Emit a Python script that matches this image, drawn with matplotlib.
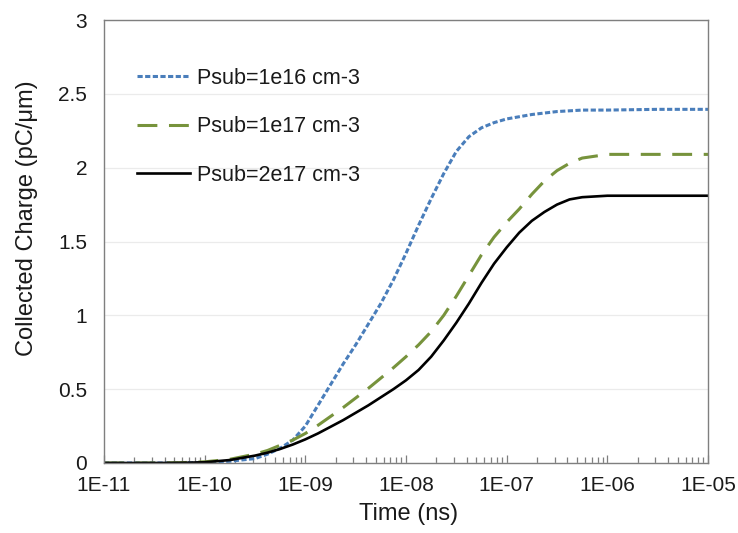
import numpy as np
import matplotlib
matplotlib.use("Agg")
import matplotlib.pyplot as plt
from matplotlib.ticker import LogLocator, NullFormatter

plt.rcParams['font.family'] = ['Liberation Sans', 'DejaVu Sans']

# decade offsets from 1E-11 ns (time = 1e-11 * 10**offset)
log_offset = [0.0, 0.5, 0.75, 1.0, 1.25, 1.5, 1.625, 1.75, 1.875, 2.0, 2.125,
              2.25, 2.375, 2.5, 2.625, 2.75, 2.875, 3.0, 3.125, 3.25, 3.375,
              3.5, 3.625, 3.75, 3.875, 4.0, 4.125, 4.25, 4.375, 4.5, 4.625,
              4.75, 5.0, 5.5, 6.0]
time = [1e-11 * 10 ** o for o in log_offset]

q_1e16 = [0.0, 0.0, 0.0, 0.003, 0.012, 0.03, 0.06, 0.10, 0.155, 0.25, 0.39,
          0.53, 0.67, 0.80, 0.94, 1.08, 1.24, 1.42, 1.61, 1.79, 1.96,
          2.11, 2.21, 2.27, 2.305, 2.33, 2.345, 2.36, 2.37, 2.38, 2.385,
          2.39, 2.39, 2.395, 2.395]
q_1e17 = [0.0, 0.0, 0.002, 0.008, 0.025, 0.06, 0.085, 0.12, 0.155, 0.20, 0.255,
          0.315, 0.375, 0.44, 0.505, 0.575, 0.645, 0.72, 0.80, 0.89, 1.00,
          1.13, 1.27, 1.41, 1.53, 1.63, 1.72, 1.82, 1.91, 1.98, 2.03,
          2.065, 2.09, 2.09, 2.09]
q_2e17 = [0.0, 0.0, 0.001, 0.005, 0.02, 0.05, 0.07, 0.095, 0.125, 0.16, 0.20,
          0.245, 0.29, 0.34, 0.39, 0.445, 0.50, 0.56, 0.63, 0.72, 0.83,
          0.95, 1.08, 1.22, 1.35, 1.46, 1.56, 1.64, 1.70, 1.75, 1.785,
          1.80, 1.81, 1.81, 1.81]

labels = ["Psub=1e16 cm-3", "Psub=1e17 cm-3", "Psub=2e17 cm-3"]
yticks = [0, 0.5, 1, 1.5, 2, 2.5, 3]
ytick_labels = ["0", "0.5", "1", "1.5", "2", "2.5", "3"]
xticks = [1e-11, 1e-10, 1e-9, 1e-8, 1e-7, 1e-6, 1e-5]
xtick_labels = ["1E-11", "1E-10", "1E-09", "1E-08", "1E-07", "1E-06", "1E-05"]

fig = plt.figure(figsize=(7.38, 5.33), dpi=100)
ax = fig.add_axes([104/738, 1-463/533, (708-104)/738, (463-20)/533])

ax.plot(time, q_1e16, color="#4A7EBB", lw=2.2, linestyle=(0, (1.7, 0.8)),
        dash_capstyle='butt', label=labels[0])
ax.plot(time, q_1e17, color="#77933C", lw=2.2, linestyle=(0, (6.5, 3.8)),
        dash_capstyle='butt', label=labels[1])
ax.plot(time, q_2e17, color="#000000", lw=1.9, label=labels[2])

ax.set_xscale('log')
ax.set_xlim(1e-11, 1e-5)
ax.set_ylim(0, 3)
ax.set_xticks(xticks)
ax.set_xticklabels(xtick_labels)
ax.xaxis.set_minor_locator(LogLocator(base=10, subs=np.arange(2, 10), numticks=100))
ax.xaxis.set_minor_formatter(NullFormatter())
ax.set_yticks(yticks)
ax.set_yticklabels(ytick_labels)

ax.grid(axis='y', color='#ebebeb', lw=0.9)
ax.set_axisbelow(True)
for s in ax.spines.values():
    s.set_color('#7f7f7f')
    s.set_linewidth(1.0)

ax.tick_params(axis='x', which='major', direction='in', length=6, width=0.9,
               color='#7f7f7f', labelsize=15, pad=9.5, labelcolor='#1a1a1a')
ax.tick_params(axis='x', which='minor', direction='in', length=4, width=0.9,
               color='#7f7f7f')
ax.tick_params(axis='y', which='major', length=0, labelsize=15, pad=12,
               labelcolor='#1a1a1a')

ax.set_xlabel("Time (ns)", fontsize=17, color='#1a1a1a')
ax.xaxis.set_label_coords(0.505, -0.09)
ax.set_ylabel("Collected Charge (pC/μm)", fontsize=17, color='#1a1a1a')
ax.yaxis.set_label_coords(-0.109, 0.553)

leg = ax.legend(loc='upper left', bbox_to_anchor=(0.041, 0.912), frameon=False,
                fontsize=15.5, handlelength=2.45, handletextpad=0.3,
                labelspacing=1.28, borderaxespad=0)
for t in leg.get_texts():
    t.set_color('#1a1a1a')

fig.savefig("out.png", dpi=100)
